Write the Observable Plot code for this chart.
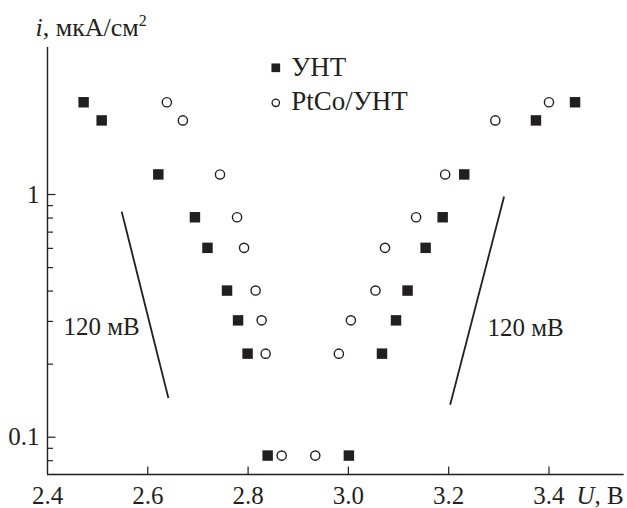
<!DOCTYPE html>
<html><head><meta charset="utf-8">
<script src="https://cdn.jsdelivr.net/npm/d3@7"></script>
<script src="https://cdn.jsdelivr.net/npm/@observablehq/plot@0.6"></script>
<style>body{margin:0;background:#fff} svg{display:block}</style>
</head><body><div id="chart"></div>
<script>
// current density levels, мкА/см2 (shared by all branches)
const currents = [2.40, 2.02, 1.21, 0.806, 0.603, 0.402, 0.303, 0.221, 0.084];
// УНТ (squares): potentials, В
const cntCathodic = [2.472, 2.508, 2.621, 2.694, 2.719, 2.758, 2.780, 2.799, 2.839];
const cntAnodic   = [3.452, 3.374, 3.231, 3.188, 3.154, 3.118, 3.095, 3.067, 3.001];
// PtCo/УНТ (circles)
const ptcoCathodic = [2.638, 2.670, 2.744, 2.778, 2.792, 2.815, 2.827, 2.835, 2.867];
const ptcoAnodic   = [3.400, 3.293, 3.193, 3.135, 3.073, 3.054, 3.005, 2.981, 2.934];

const seriesNames = ["УНТ", "PtCo/УНТ"];
const xTicks = [2.4, 2.6, 2.8, 3.0, 3.2, 3.4];
const xTickLabels = ["2.4", "2.6", "2.8", "3.0", "3.2", "3.4"];
const yMajor = [0.1, 1];
const yMajorLabels = ["0.1", "1"];
const yMinor = [0.08, 0.09, 0.2, 0.3, 0.4, 0.5, 0.6, 0.7, 0.8, 0.9];
// Tafel slope guide lines (120 mV/decade)
const slopeX1 = [2.548, 3.3105], slopeY1 = [0.85, 0.981];
const slopeX2 = [2.641, 3.203], slopeY2 = [0.145, 0.136];
const slopeLabel = ["120 мВ", "120 мВ"];
const slopeLabelX = [2.432, 3.2774], slopeLabelY = [0.285, 0.283];

const yTitle = "i, мкА/см2";
const xTitle = "U, В";

const W = 627, H = 508;
const mL = 47, mR = 3.3, mT = 47, mB = 34;
const fw = W - mL - mR, fh = H - mT - mB;
const ink = "#231f20";
const FS = 25;

const cnt = currents.flatMap((c, i) => [{x: cntCathodic[i], y: c}, {x: cntAnodic[i], y: c}]);
const ptco = currents.flatMap((c, i) => [{x: ptcoCathodic[i], y: c}, {x: ptcoAnodic[i], y: c}]);
const slopes = slopeX1.map((d, i) => ({x1: d, y1: slopeY1[i], x2: slopeX2[i], y2: slopeY2[i], label: slopeLabel[i], lx: slopeLabelX[i], ly: slopeLabelY[i]}));

const svg = Plot.plot({
  width: W, height: H,
  marginLeft: mL, marginRight: mR, marginTop: mT, marginBottom: mB,
  style: {fontFamily: "'Liberation Serif', 'Times New Roman', serif", background: "#fff", color: ink},
  x: {type: "linear", domain: [2.4, 3.55], axis: null},
  y: {type: "log", domain: [0.0702, 4.035], axis: null},
  marks: [
    Plot.ruleX([2.4], {stroke: ink, strokeWidth: 1.4}),
    Plot.ruleY([0.0702], {stroke: ink, strokeWidth: 1.4}),
    Plot.tickY(yMajor, {y: d => d, stroke: ink, strokeWidth: 1.2, insetRight: fw - 8.5}),
    Plot.tickY(yMinor, {y: d => d, stroke: ink, strokeWidth: 1.2, insetRight: fw - 6}),
    Plot.tickX(xTicks.slice(1), {x: d => d, stroke: ink, strokeWidth: 1.2, insetTop: fh - 7.5}),
    Plot.text(xTicks, {x: d => d, frameAnchor: "bottom", text: (d, i) => xTickLabels[i], lineAnchor: "bottom", dy: 29, fontSize: FS, fill: ink}),
    Plot.text(yMajor, {y: d => d, frameAnchor: "left", text: (d, i) => yMajorLabels[i], textAnchor: "end", lineAnchor: "middle", dx: -8, fontSize: FS, fill: ink}),
    Plot.text([xTitle], {frameAnchor: "bottom-right", textAnchor: "end", lineAnchor: "bottom", dy: 29, dx: -0.5, fontSize: FS, fill: ink}),
    Plot.text([yTitle], {frameAnchor: "top-left", textAnchor: "start", lineAnchor: "bottom", dx: -12, dy: -12, fontSize: 26, fill: ink}),
    Plot.link(slopes, {x1: "x1", y1: "y1", x2: "x2", y2: "y2", stroke: ink, strokeWidth: 1.8}),
    Plot.text(slopes, {x: "lx", y: "ly", text: "label", textAnchor: "start", lineAnchor: "middle", fontSize: FS, fill: ink}),
    Plot.dot(cnt, {x: "x", y: "y", symbol: "square", r: 5.9, fill: ink, stroke: "none"}),
    Plot.dot(ptco, {x: "x", y: "y", symbol: "circle", r: 4.6, fill: "#fff", stroke: ink, strokeWidth: 1.4}),
    Plot.dot([seriesNames[0]], {frameAnchor: "top-left", dx: 228.3, dy: 20.3, symbol: "square", r: 4.9, fill: ink, stroke: "none"}),
    Plot.dot([seriesNames[1]], {frameAnchor: "top-left", dx: 228.3, dy: 55.3, symbol: "circle", r: 3.7, fill: "#fff", stroke: ink, strokeWidth: 1.3}),
    Plot.text([seriesNames[0]], {frameAnchor: "top-left", text: d => d, textAnchor: "start", lineAnchor: "bottom", dx: 243.7, dy: 28.5, fontSize: 27, fill: ink}),
    Plot.text([seriesNames[1]], {frameAnchor: "top-left", text: d => d, textAnchor: "start", lineAnchor: "bottom", dx: 243.7, dy: 62.5, fontSize: 27, fill: ink})
  ]
});

d3.select(svg).selectAll("text").each(function() {
  const t = this.textContent;
  const sel = d3.select(this);
  if (t === yTitle) {
    sel.text(null);
    sel.append("tspan").attr("font-style", "italic").text("i");
    sel.append("tspan").text(", мкА/см");
    sel.append("tspan").attr("font-size", 16).attr("dy", -10).text("2");
  } else if (t === xTitle) {
    sel.text(null);
    sel.append("tspan").attr("font-style", "italic").text("U");
    sel.append("tspan").text(", В");
  }
});

document.getElementById("chart").appendChild(svg);
</script>
</body></html>
